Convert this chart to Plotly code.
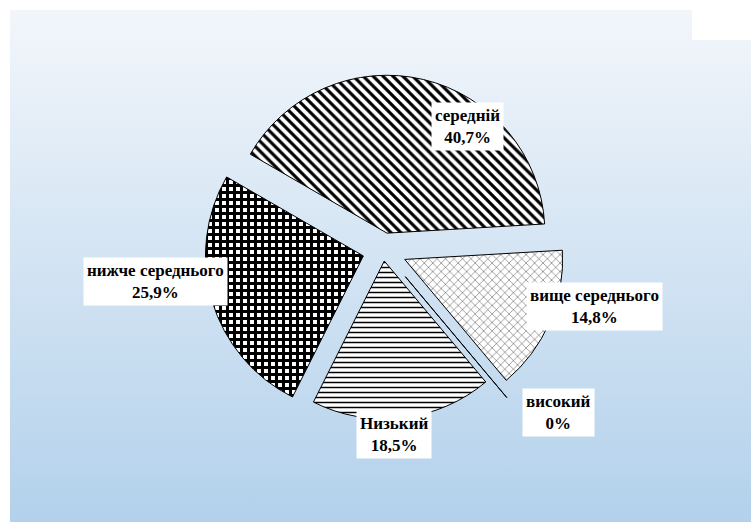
import base64
import plotly.graph_objects as go

# Data
categories = ["середній", "вище середнього", "високий", "Низький", "нижче середнього"]
values = [40.7, 14.8, 0, 18.5, 25.9]
value_labels = ["40,7%", "14,8%", "0%", "18,5%", "25,9%"]

# Styles
pulls = [0.11, 0.15, 0.22, 0.07, 0.13]
shapes_pat = ["\\", "x", "", "-", "+"]
pat_sizes = [7, 6, 6, 5, 7]
pat_solid = [0.45, 0.12, 0.3, 0.3, 0.68]
# a zero-size slice is not drawn by plotly; give it a hairline width so its edge shows
draw_values = [v if v > 0 else 0.001 for v in values]

W, H = 751, 522

svg = f'''<svg xmlns="http://www.w3.org/2000/svg" width="{W}" height="{H}" viewBox="0 0 {W} {H}">
<defs><linearGradient id="g" x1="0" y1="0" x2="0" y2="1">
<stop offset="0" stop-color="#f2f6fb"/><stop offset="1" stop-color="#b3d1eb"/></linearGradient></defs>
<rect x="10" y="10" width="{W-10}" height="{H-10}" fill="url(#g)"/>
<rect x="692" y="0" width="{W-692}" height="40" fill="#ffffff"/>
</svg>'''
svg_uri = "data:image/svg+xml;base64," + base64.b64encode(svg.encode()).decode()

fig = go.Figure()
fig.add_trace(go.Pie(
    labels=categories,
    values=draw_values,
    sort=False,
    direction="clockwise",
    rotation=-60,
    pull=pulls,
    textinfo="none",
    hoverinfo="skip",
    showlegend=False,
    marker=dict(
        colors=["white"] * len(values),
        line=dict(color="black", width=1),
        pattern=dict(shape=shapes_pat, fgcolor="black", bgcolor="white",
                     size=pat_sizes, solidity=pat_solid, fillmode="replace"),
    ),
    domain=dict(x=[0.252, 0.768], y=[0.152, 0.89]),
))

# label positions (paper px centers)
label_pos = [(467, 126), (594, 306), (558, 412), (394, 434), (155, 281)]
for cat, vl, (px, py) in zip(categories, value_labels, label_pos):
    fig.add_annotation(
        x=px / W, y=1 - py / H, xref="paper", yref="paper",
        xanchor="center", yanchor="middle",
        text=f"<b>{cat}<br>{vl}</b>", showarrow=False,
        font=dict(family="Liberation Serif, Times New Roman, serif", size=17, color="black"),
        bgcolor="white", borderpad=3, align="center",
    )

fig.update_layout(
    width=W, height=H,
    margin=dict(l=0, r=0, t=0, b=0),
    paper_bgcolor="white", plot_bgcolor="rgba(0,0,0,0)",
    images=[dict(source=svg_uri, xref="paper", yref="paper", x=0, y=1,
                 sizex=1, sizey=1, xanchor="left", yanchor="top",
                 sizing="stretch", layer="below")],
)

fig.write_html("out.html")
